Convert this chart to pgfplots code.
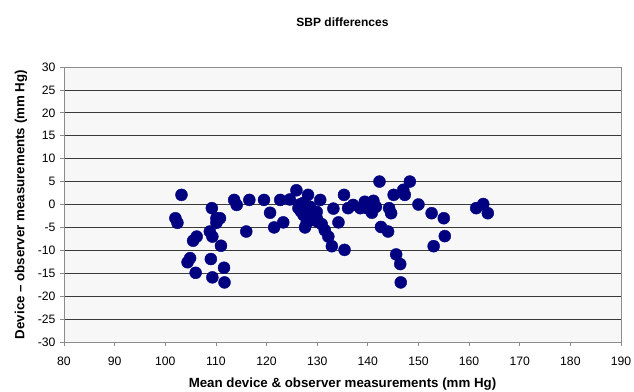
\documentclass[border=0pt]{standalone}
\usepackage{pgfplots}
\pgfplotsset{compat=1.18}
\usetikzlibrary{calc}
\usepackage{fontspec}
\setmainfont{Liberation Sans}
\definecolor{ptnavy}{HTML}{000080}
\definecolor{bggray}{HTML}{F7F7F7}
\definecolor{gridc}{HTML}{3A3A3A}
\definecolor{axc}{HTML}{8C8C8C}
\begin{document}
\begin{tikzpicture}[x=1bp,y=1bp]
\begin{axis}[
  name=ax,
  scale only axis,
  width=557bp, height=275bp,
  xmin=80, xmax=190, ymin=-30, ymax=30,
  xtick={80,90,...,190},
  ytick={-30,-25,...,30},
  axis background/.style={fill=bggray},
  axis line style={axc, line width=0.9bp},
  ymajorgrids,
  major grid style={gridc, line width=0.8bp},
  tick align=outside,
  major tick length=4bp,
  tick style={axc, line width=0.8bp},
  xtick pos=bottom, ytick pos=left,
  tick label style={font=\fontsize{12.2bp}{14bp}\selectfont, text=black},
  /pgf/number format/assume math mode=true,
  xticklabel style={yshift=-7bp},
  yticklabel style={xshift=-1bp},
  title={\bfseries SBP differences},
  title style={font=\fontsize{12bp}{15bp}\selectfont, at={(0.5,1)}, yshift=31bp, anchor=south},
  xlabel={\bfseries Mean device \& observer measurements (mm Hg)},
  ylabel={\bfseries Device -- observer measurements (mm Hg)},
  label style={font=\fontsize{13.3bp}{15bp}\selectfont},
  xlabel style={at={(0.5,0)}, anchor=center, yshift=-42bp},
  ylabel style={at={(0,0.5)}, anchor=center, rotate=0, yshift=43bp},
  clip=false,
]
\addplot[only marks, mark=*, mark size=6bp, mark options={draw=ptnavy, fill=ptnavy}] coordinates {
(102.0,-3.0) (102.4,-4.0) (103.2,2.1) (104.4,-12.6) (104.9,-11.7)
(105.5,-7.9) (106.2,-7.0) (106.0,-14.9) (108.8,-5.9) (109.0,-11.9)
(109.2,-0.8) (109.3,-7.0) (109.3,-15.9) (110.1,-3.0) (110.8,-3.0)
(110.1,-4.0) (111.0,-9.0) (111.6,-13.8) (111.7,-17.0) (113.6,1.0)
(114.1,-0.1) (116.0,-5.9) (116.6,1.0) (119.5,1.0) (120.7,-1.8)
(121.5,-5.0) (122.7,1.0) (123.3,-3.9) (124.6,1.1) (125.9,3.1)
(126.3,-0.8) (126.6,0.0) (126.8,-1.5) (127.2,0.3) (127.3,-2.3)
(127.6,-5.0) (127.9,-4.1) (128.2,2.1) (128.5,-2.5) (128.6,-0.5)
(129.2,-3.4) (129.9,-1.6) (129.9,-3.0) (130.2,-3.8) (130.6,1.0)
(130.9,-4.3) (131.5,-5.6) (132.2,-7.0) (132.9,-9.1) (133.2,-0.9)
(134.2,-3.9) (135.3,2.1) (135.4,-9.9) (136.1,-0.8) (137.1,-0.1)
(138.5,-0.8) (139.4,0.6) (139.8,-0.8) (140.8,-1.8) (141.1,0.8)
(141.6,-0.5) (142.3,5.0) (142.6,-4.9) (144.0,-5.9) (144.2,-0.8)
(144.6,-1.9) (145.1,2.1) (145.6,-10.9) (146.4,-13.0) (146.5,-17.0)
(147.0,3.2) (147.3,2.1) (148.3,5.0) (150.0,0.0) (152.6,-1.9)
(153.0,-9.1) (155.0,-3.0) (155.2,-6.9) (161.4,-0.8) (162.8,0.1)
(163.7,-1.9)
};
\end{axis}
\pgfresetboundingbox
\path[use as bounding box] ($(ax.south west)+(-64bp,-50bp)$) rectangle ($(ax.north east)+(13bp,67bp)$);
\end{tikzpicture}
\end{document}
